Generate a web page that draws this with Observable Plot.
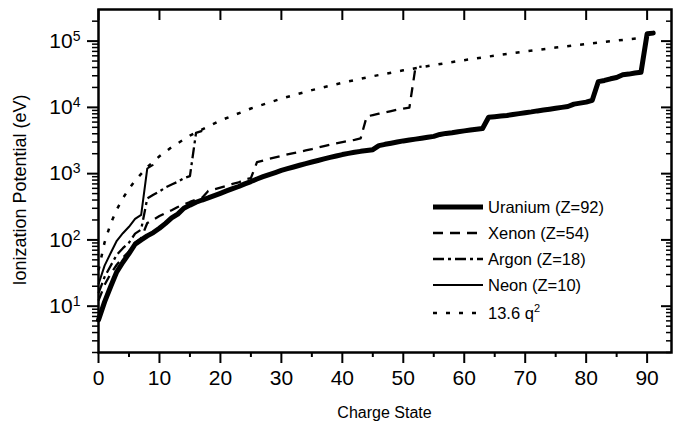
<!DOCTYPE html>
<html>
<head>
<meta charset="utf-8">
<script src="https://cdn.jsdelivr.net/npm/d3@7"></script>
<script src="https://cdn.jsdelivr.net/npm/@observablehq/plot@0.6"></script>
<style>
  body { margin: 0; background: #fff; }
  #chart svg { display: block; font-family: "Liberation Sans", Arial, sans-serif; }
</style>
</head>
<body>
<div id="chart"></div>
<script>
// ---- Data (charge state q = array index) ----
const uraniumIP = [
  6.2, 11.6, 19.8, 33, 46, 62, 86, 100, 115, 129,
  150, 178, 215, 245, 300, 335, 370, 400, 430, 465,
  505, 550, 595, 640, 700, 760, 830, 900, 970, 1040,
  1120, 1190, 1260, 1340, 1420, 1500, 1580, 1670, 1760, 1850,
  1940, 2020, 2100, 2170, 2230, 2300, 2650, 2770, 2880, 3000,
  3120, 3220, 3320, 3430, 3540, 3650, 3900, 4050, 4150, 4300,
  4420, 4550, 4680, 4800, 7100, 7250, 7400, 7550, 7800, 8050,
  8300, 8550, 8850, 9100, 9400, 9700, 10000, 10300, 11200, 11600,
  12000, 12800, 24500, 25500, 27000, 28200, 31000, 31800, 33000, 33900,
  129000, 132000
];
const xenonIP = [
  12.13, 20.98, 31.05, 42.2, 54.1, 66.7, 91.6, 106, 179.8, 202,
  229, 255, 281, 314, 343, 374, 404, 434, 549, 582,
  616, 650, 700, 736, 818, 857, 1493, 1577, 1669, 1759,
  1853, 1946, 2042, 2142, 2240, 2345, 2470, 2600, 2730, 2860,
  2990, 3120, 3240, 3400, 7290, 7660, 8040, 8420, 8800, 9200,
  9600, 9900, 40270, 41300
];
const argonIP = [
  15.76, 27.63, 40.74, 59.81, 75.02, 91.01, 124.32, 143.46, 422.45, 478.69,
  538.96, 618.26, 686.1, 755.74, 854.77, 918.03, 4120.89, 4426.23
];
const neonIP = [21.56, 40.96, 63.45, 97.12, 126.21, 157.93, 207.28, 239.1, 1195.83, 1362.2];
const hydrogenicQ = [0, 1, 2, 3, 4, 5, 6, 8, 10, 12, 15, 20, 25, 30, 35, 40, 45, 50, 55, 60, 65, 70, 75, 80, 85, 89];
const hydrogenicIP = [34.8, 91.9, 176, 288, 426, 592, 786, 1253, 1830, 2515, 3748, 6345, 9623, 13580, 18220, 23540, 29530, 36210, 43570, 51610, 60320, 69720, 79800, 90560, 102000, 111600];

const seriesNames = ["Uranium (Z=92)", "Xenon (Z=54)", "Argon (Z=18)", "Neon (Z=10)", "13.6 q"];
const xTicks = [0, 10, 20, 30, 40, 50, 60, 70, 80, 90];
const xMinorTicks = [5, 15, 25, 35, 45, 55, 65, 75, 85];
const yTicks = [1e1, 1e2, 1e3, 1e4, 1e5];
const yTickExponents = ["1", "2", "3", "4", "5"];
const yMinorTicks = [2,3,4,5,6,7,8,9,20,30,40,50,60,70,80,90,200,300,400,500,600,700,800,900,
  2000,3000,4000,5000,6000,7000,8000,9000,20000,30000,40000,50000,60000,70000,80000,90000,200000];
const xLabel = "Charge State";
const yLabel = "Ionization Potential (eV)";

// ---- Styles ----
const styles = [
  {width: 5, dash: null},
  {width: 2.3, dash: "10,7"},
  {width: 2.3, dash: "11,4,3,4"},
  {width: 2, dash: null},
  {width: 2.5, dash: "4,9"}
];
const FONT = '"Liberation Sans", Arial, sans-serif';

const toRows = (arr) => arr.map((v, i) => ({q: i, ip: v}));
const rows = [toRows(uraniumIP), toRows(xenonIP), toRows(argonIP), toRows(neonIP),
  hydrogenicQ.map((q, i) => ({q, ip: hydrogenicIP[i]}))];

const W = 674, H = 436, ML = 98, MR = 3, MT = 9, MB = 84;
const frameW = W - ML - MR, frameH = H - MT - MB;

const lineMarks = rows.map((r, i) => Plot.line(r, {
  x: "q", y: "ip", stroke: "black", strokeWidth: styles[i].width,
  strokeDasharray: styles[i].dash, strokeLinejoin: "round",
  strokeLinecap: i === 0 ? "round" : "butt"
}));

const svg = Plot.plot({
  width: W, height: H,
  marginLeft: ML, marginRight: MR, marginTop: MT, marginBottom: MB,
  style: {background: "white", color: "black", fontFamily: FONT},
  x: {domain: [0, 94]},
  y: {type: "log", domain: [2, 3e5]},
  marks: [
    ...lineMarks,
    Plot.frame({stroke: "black", strokeWidth: 2.5}),
    Plot.axisX(xTicks, {anchor: "bottom", tickSize: 11, tickPadding: 7, fontSize: 21, strokeWidth: 2, label: null, tickFormat: d => String(d)}),
    Plot.axisX(xMinorTicks, {anchor: "bottom", tickSize: 5, strokeWidth: 2, label: null, tickFormat: () => ""}),
    Plot.axisY(yTicks, {anchor: "left", tickSize: 11, tickPadding: 7, fontSize: 21, strokeWidth: 2, label: null,
      tickFormat: d => yTickExponents[yTicks.indexOf(d)]}),
    Plot.axisY(yMinorTicks, {anchor: "left", tickSize: 6, strokeWidth: 1.5, label: null, tickFormat: () => ""}),
    Plot.tickX(xTicks, {x: d => d, insetBottom: frameH - 11, strokeWidth: 2}),
    Plot.tickY(yTicks, {y: d => d, insetLeft: frameW - 10, strokeWidth: 2}),
    Plot.tickY(yMinorTicks, {y: d => d, insetLeft: frameW - 5, strokeWidth: 1.5})
  ]
});

const root = d3.select(svg);

// superscript exponents on y tick labels
root.selectAll('g[aria-label="y-axis tick label"] text').each(function() {
  const t = d3.select(this);
  const e = t.text();
  if (!e) return;
  t.text(null);
  t.append("tspan").text("10");
  t.append("tspan").attr("dy", "-0.5em").attr("font-size", 14).text(e);
});

// axis titles
root.append("text").attr("x", ML + frameW / 2).attr("y", 412).attr("dy", "0.35em")
  .attr("text-anchor", "middle").attr("font-family", FONT).attr("font-size", 16)
  .attr("fill", "black").text(xLabel);
root.append("text").attr("transform", "translate(20,190) rotate(-90)").attr("dy", "0.35em")
  .attr("text-anchor", "middle").attr("font-family", FONT).attr("font-size", 18)
  .attr("fill", "black").text(yLabel);

// legend inside the frame
const legendRowY = [207, 233, 259, 285, 313];
const leg = root.append("g")
  .attr("font-family", FONT).attr("text-anchor", "start")
  .attr("font-size", 16.5).attr("fill", "black");
seriesNames.forEach((name, i) => {
  const y = legendRowY[i];
  leg.append("line").attr("x1", 433).attr("x2", 483).attr("y1", y).attr("y2", y)
    .attr("stroke", "black").attr("stroke-width", styles[i].width)
    .attr("stroke-dasharray", styles[i].dash);
  const t = leg.append("text").attr("x", 488).attr("y", y).attr("dy", "0.36em").text(name);
  if (i === 4) t.append("tspan").attr("dy", "-0.6em").attr("font-size", 11).text("2");
});

document.getElementById("chart").appendChild(svg);
</script>
</body>
</html>
